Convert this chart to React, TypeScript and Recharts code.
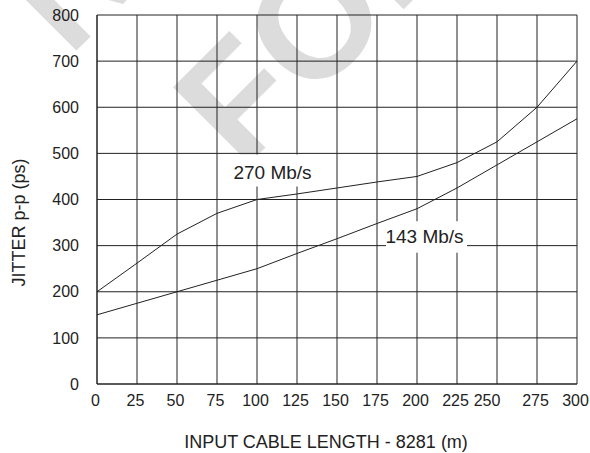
import React from 'react';
import { LineChart, Line, XAxis, YAxis, CartesianGrid } from 'recharts';

const lengths = [0, 25, 50, 75, 100, 125, 150, 175, 200, 225, 250, 275, 300];
const jitter270 = [200, 262, 325, 370, 400, 412, 425, 438, 450, 480, 525, 600, 700];
const jitter143 = [150, 175, 200, 225, 250, 283, 315, 348, 380, 425, 475, 525, 575];
const xTicks = [0, 25, 50, 75, 100, 125, 150, 175, 200, 225, 250, 275, 300];
const yTicks = [0, 100, 200, 300, 400, 500, 600, 700, 800];
const label270 = '270 Mb/s';
const label143 = '143 Mb/s';
const xTitle = 'INPUT CABLE LENGTH - 8281 (m)';
const yTitle = 'JITTER p-p (ps)';
const watermark1 = 'N';
const watermark2 = 'FOR';

const data = lengths.map((len, i) => ({ len, s270: jitter270[i], s143: jitter143[i] }));

const FONT = '"Liberation Sans", Arial, Helvetica, sans-serif';
const INK = '#222';

const XTick = (props: any) => {
  const { x, y, payload } = props;
  const dx = payload.value === 250 ? -10 : -1.5;
  return (
    <text x={x + dx} y={y} dy="0.71em" textAnchor="middle" fill={INK} fontSize={16} fontFamily={FONT}>
      {payload.value}
    </text>
  );
};

const YTick = (props: any) => {
  const { x, y, payload } = props;
  return (
    <text x={x} y={y} dy="0.355em" textAnchor="end" fill={INK} fontSize={16} fontFamily={FONT}>
      {payload.value}
    </text>
  );
};

const makeBoxLabel = (targetIndex: number, text: string, box: { l: number; r: number; t: number; b: number }, tdx: number, tdy: number) =>
  (props: any) => {
    const { x, y, index } = props;
    if (index !== targetIndex || x == null || y == null) return <g />;
    return (
      <g>
        <rect x={x + box.l} y={y + box.t} width={box.r - box.l} height={box.b - box.t} fill="#fff" />
        <text x={x + tdx} y={y + tdy} textAnchor="middle" fill={INK} fontSize={19} fontFamily={FONT}>
          {text}
        </text>
      </g>
    );
  };

const box270 = makeBoxLabel(4, label270, { l: -28, r: 59, t: -45, b: -13 }, 15.5, -20.5);
const box143 = makeBoxLabel(8, label143, { l: -31, r: 50, t: 12.5, b: 44 }, 7.5, 34.3);

const XTitle = (props: any) => {
  const vb = props.viewBox || { x: 97, y: 384, width: 480, height: 30 };
  return (
    <text x={vb.x + vb.width / 2 - 11} y={vb.y + 64} textAnchor="middle" fill={INK} fontSize={18} fontFamily={FONT}>
      {xTitle}
    </text>
  );
};

const YTitle = (props: any) => {
  const vb = props.viewBox || { x: 0, y: 15, width: 97, height: 369 };
  const cx = vb.x + 25;
  const cy = vb.y + vb.height / 2 + 23;
  return (
    <text x={cx} y={cy} transform={`rotate(-90 ${cx} ${cy})`} textAnchor="middle" fill={INK} fontSize={18} fontFamily={FONT}>
      {yTitle}
    </text>
  );
};

export default function App() {
  return (
    <div style={{ position: 'absolute', left: 0, top: 0, width: 590, height: 453, background: '#fff', overflow: 'hidden' }}>
      <svg width={590} height={453} style={{ position: 'absolute', left: 0, top: 0 }}>
        <text x={69} y={58} transform="rotate(-45 69 58)" fontSize={157} fontWeight="bold" fill="#dcdcdc" fontFamily={FONT}>
          {watermark1}
        </text>
        <text x={242} y={171} transform="rotate(-45 242 171)" fontSize={157} fontWeight="bold" fill="#dcdcdc" fontFamily={FONT}>
          {watermark2}
        </text>
      </svg>
      <div style={{ position: 'absolute', left: 0, top: 0 }}>
        <LineChart width={590} height={453} data={data} margin={{ top: 15, right: 13, bottom: 39, left: 0 }}>
          <CartesianGrid stroke={INK} strokeWidth={1} />
          <XAxis
            dataKey="len"
            type="number"
            domain={[0, 300]}
            ticks={xTicks}
            interval={0}
            height={30}
            tickSize={0}
            tickMargin={11}
            tickLine={false}
            axisLine={{ stroke: INK }}
            tick={<XTick />}
            label={{ content: <XTitle /> }}
          />
          <YAxis
            type="number"
            domain={[0, 800]}
            ticks={yTicks}
            interval={0}
            width={97}
            tickSize={0}
            tickMargin={18}
            tickLine={false}
            axisLine={{ stroke: INK }}
            tick={<YTick />}
            label={{ content: <YTitle /> }}
          />
          <Line dataKey="s270" stroke="none" dot={false} activeDot={false} isAnimationActive={false} label={box270} />
          <Line dataKey="s143" stroke="none" dot={false} activeDot={false} isAnimationActive={false} label={box143} />
          <Line type="linear" dataKey="s270" stroke={INK} strokeWidth={1} dot={false} activeDot={false} isAnimationActive={false} />
          <Line type="linear" dataKey="s143" stroke={INK} strokeWidth={1} dot={false} activeDot={false} isAnimationActive={false} />
        </LineChart>
      </div>
    </div>
  );
}
